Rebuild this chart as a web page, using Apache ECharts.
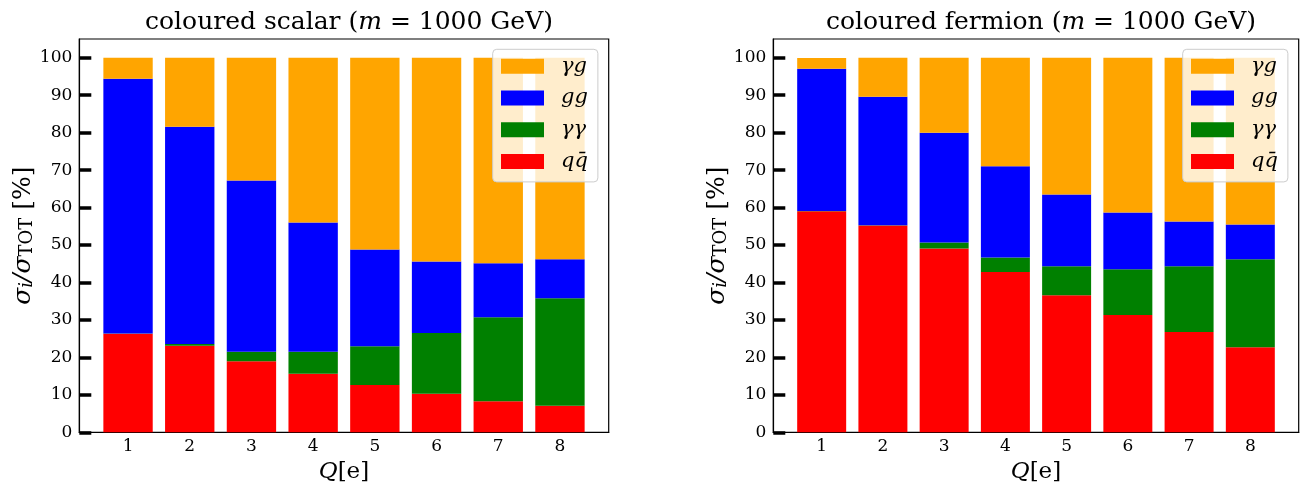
<!DOCTYPE html>
<html>
<head>
<meta charset="utf-8">
<script src="https://cdn.jsdelivr.net/npm/echarts@6/dist/echarts.min.js"></script>
<style>
html,body{margin:0;padding:0;background:#fff;}
#c{width:1304px;height:486px;}
</style>
</head>
<body>
<div id="c"></div>
<script>
// ---- data ----
const charges = ['1', '2', '3', '4', '5', '6', '7', '8'];
const seriesNames = ['qq\u0304', '\u03b3\u03b3', 'gg', '\u03b3g']; // stacking order bottom -> top
const legendOrder = ['\u03b3g', 'gg', '\u03b3\u03b3', 'qq\u0304'];
const colors = {'qq\u0304': '#ff0000', '\u03b3\u03b3': '#008000', 'gg': '#0000ff', '\u03b3g': '#ffa500'};

const scalarQQ = [26.3, 23.1, 19.0, 15.6, 12.6, 10.3, 8.3, 7.1];
const scalarAA = [0.1, 0.5, 2.5, 5.9, 10.4, 16.2, 22.4, 28.7];
const scalarGG = [68.0, 58.0, 45.7, 34.5, 25.8, 19.1, 14.4, 10.4];
const scalarAG = [5.6, 18.4, 32.8, 44.0, 51.2, 54.4, 54.9, 53.8];

const fermionQQ = [59.0, 55.2, 49.1, 42.8, 36.6, 31.3, 26.8, 22.7];
const fermionAA = [0.05, 0.1, 1.6, 3.9, 7.7, 12.2, 17.5, 23.5];
const fermionGG = [38.0, 34.3, 29.3, 24.3, 19.2, 15.2, 12.0, 9.3];
const fermionAG = [2.9, 10.4, 20.0, 29.0, 36.5, 41.3, 43.7, 44.5];

const yTicks = [0, 10, 20, 30, 40, 50, 60, 70, 80, 90, 100];

// ---- layout ----
const SERIF = 'DejaVu Serif';
const frames = [
  {left: 79.3, top: 39, width: 529.4, height: 393.3},
  {left: 773.3, top: 39, width: 525.4, height: 393.3}
];
const xMin = 0.21, xMax = 8.79, yMax = 105;

// inner grids holding the category bands (from x = 0.5 to 8.5)
const inner = frames.map(f => {
  const ppu = f.width / (xMax - xMin);
  return {left: f.left + (0.5 - xMin) * ppu, top: f.top, width: 8 * ppu, height: f.height};
});

const chart = echarts.init(document.getElementById('c'), null, {renderer: 'canvas'});

const gridList = [];
frames.forEach(f => gridList.push(Object.assign({show: true, borderColor: '#000', borderWidth: 1.2, outerBoundsMode: 'none', containLabel: false}, f)));
inner.forEach(f => gridList.push(Object.assign({show: false, outerBoundsMode: 'none', containLabel: false}, f)));

const xAxes = [], yAxes = [];
// frame axes (0,1)
[0, 1].forEach(i => {
  xAxes.push({gridIndex: i, type: 'value', min: xMin, max: xMax,
    axisLine: {show: true, onZero: false, lineStyle: {color: '#000', width: 1.2}},
    axisTick: {show: false}, axisLabel: {show: false}, splitLine: {show: false}});
  yAxes.push({gridIndex: i, type: 'value', min: 0, max: yMax,
    axisLine: {show: true, lineStyle: {color: '#000', width: 1.2}},
    axisTick: {show: true, inside: true, length: 12, customValues: yTicks, lineStyle: {color: '#000', width: 3.5}},
    splitLine: {show: false},
    axisLabel: {customValues: yTicks, color: '#000', fontFamily: SERIF, fontSize: 17, margin: 7},
    name: '{s|\u03c3}{sub|i}{s|/\u03c3}{sub2|TOT}{t| [%]}', nameLocation: 'middle', nameGap: 42, nameRotate: 90,
    nameTextStyle: {rich: {
      s: {fontFamily: SERIF, fontStyle: 'italic', fontSize: 25, color: '#000', verticalAlign: 'bottom', lineHeight: 29},
      sub: {fontFamily: SERIF, fontStyle: 'italic', fontSize: 18, color: '#000', verticalAlign: 'bottom', lineHeight: 22},
      sub2: {fontFamily: SERIF, fontSize: 18, color: '#000', verticalAlign: 'bottom', lineHeight: 22},
      t: {fontFamily: SERIF, fontSize: 25, color: '#000', verticalAlign: 'bottom', lineHeight: 29}
    }}
  });
});
// inner axes (2,3)
[0, 1].forEach(i => {
  xAxes.push({gridIndex: 2 + i, type: 'category', data: charges, boundaryGap: true,
    axisLine: {show: false}, axisTick: {show: false}, splitLine: {show: false},
    axisLabel: {color: '#000', fontFamily: SERIF, fontSize: 17, margin: 6},
    name: '{i|Q}{a|[e]}', nameLocation: 'middle', nameGap: 25,
    nameTextStyle: {rich: {
      i: {fontFamily: SERIF, fontStyle: 'italic', fontSize: 23, color: '#000'},
      a: {fontFamily: SERIF, fontSize: 23, color: '#000'}
    }}
  });
  yAxes.push({gridIndex: 2 + i, type: 'value', min: 0, max: yMax, show: false, splitLine: {show: false}});
});

function barSeries(i, dataArrays) {
  return seriesNames.map((name, k) => ({
    name: name, type: 'bar', xAxisIndex: 2 + i, yAxisIndex: 2 + i, stack: 'stack' + i,
    barWidth: '80%',
    itemStyle: {color: colors[name]},
    emphasis: {disabled: true},
    data: dataArrays[k]
  }));
}

function legendFor(i) {
  const f = frames[i];
  const rightEdge = f.left + f.width - 11.4;
  return {
    orient: 'vertical', left: rightEdge - 104.6, top: 49.3,
    data: legendOrder,
    itemWidth: 43, itemHeight: 15, itemGap: 10.7,
    padding: [6.5, 10, 10, 8.3],
    backgroundColor: 'rgba(255,255,255,0.8)',
    borderColor: '#cccccc', borderWidth: 1, borderRadius: 4,
    icon: 'rect',
    selectedMode: false,
    formatter: n => '{t|' + n + '}',
    textStyle: {fontFamily: SERIF, fontStyle: 'italic', fontSize: 21, color: '#000',
      rich: {t: {fontFamily: SERIF, fontStyle: 'italic', fontSize: 21, color: '#000', padding: [0, 0, 0, 12]}}}
  };
}

function titleFor(i, word) {
  const f = frames[i];
  return {
    text: '{a|coloured ' + word + ' (}{m|m}{a| = 1000 GeV)}',
    left: f.left + f.width / 2, textAlign: 'center', top: 5,
    textStyle: {fontWeight: 'normal', rich: {
      a: {fontFamily: SERIF, fontWeight: 'normal', fontSize: 25, color: '#000'},
      m: {fontFamily: SERIF, fontWeight: 'normal', fontStyle: 'italic', fontSize: 25, color: '#000'}
    }}
  };
}

const option = {
  backgroundColor: '#ffffff',
  animation: false,
  title: [titleFor(0, 'scalar'), titleFor(1, 'fermion')],
  grid: gridList,
  legend: [legendFor(0), legendFor(1)],
  xAxis: xAxes,
  yAxis: yAxes,
  series: [].concat(
    barSeries(0, [scalarQQ, scalarAA, scalarGG, scalarAG]),
    barSeries(1, [fermionQQ, fermionAA, fermionGG, fermionAG])
  )
};
chart.setOption(option);
</script>
</body>
</html>
